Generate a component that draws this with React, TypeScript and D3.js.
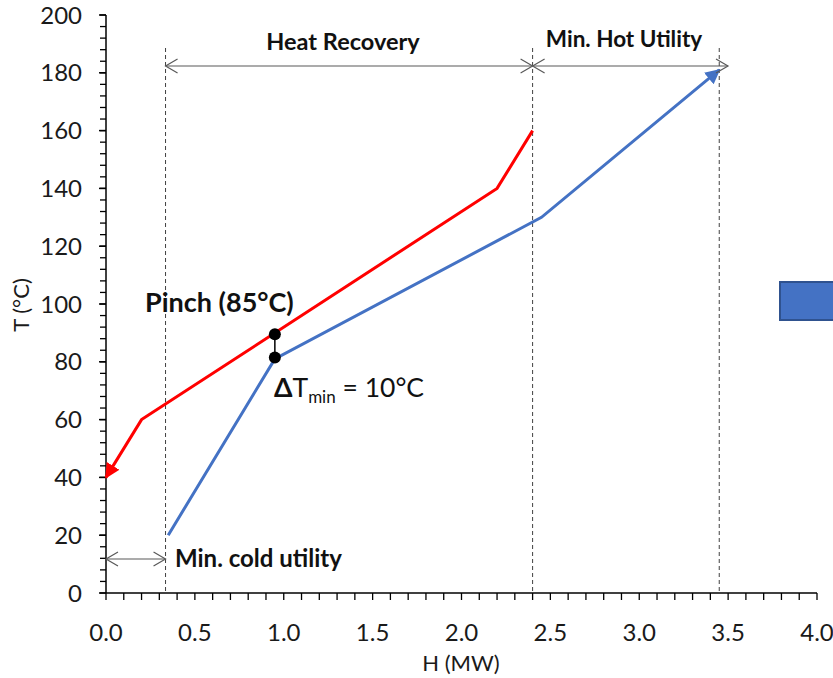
import React from "react";
import * as d3 from "d3";

const hotH = [2.4, 2.2, 0.2, 0.0];
const hotT = [160, 140, 60, 40];
const coldH = [0.35, 0.95, 2.45, 3.45];
const coldT = [20, 81, 130, 181];
const pinchH = [0.95, 0.95];
const pinchT = [89.5, 81.5];
const guideH = [0.335, 2.4, 3.45];
const xTicks = [0, 0.5, 1.0, 1.5, 2.0, 2.5, 3.0, 3.5, 4.0];
const yTicks = [0, 20, 40, 60, 80, 100, 120, 140, 160, 180, 200];

const W = 833, H = 678;
const FONT = "Lato, 'Open Sans', sans-serif";

export default function App() {
  const x = d3.scaleLinear().domain([0, 4]).range([106, 817]);
  const y = d3.scaleLinear().domain([0, 200]).range([593, 15]);
  const line = d3.line<[number, number]>().x(d => x(d[0])).y(d => y(d[1]));
  const hot = hotH.map((h, i) => [h, hotT[i]] as [number, number]);
  const cold = coldH.map((h, i) => [h, coldT[i]] as [number, number]);
  const xMinor = d3.range(0, 41).map(i => i / 10);
  const yMinor = d3.range(0, 51).map(i => i * 4);
  const gray = "#595959";
  const openHead = (px: number, py: number, dir: number, key: string) => (
    <path key={key} d={`M${px + dir * 12},${py - 7} L${px},${py} L${px + dir * 12},${py + 7}`} fill="none" stroke={gray} strokeWidth={1.2} />
  );
  const dim = (x1: number, x2: number, yy: number, k: string) => (
    <g key={k}>
      <line x1={x1} x2={x2} y1={yy} y2={yy} stroke={gray} strokeWidth={1.2} />
      {openHead(x1, yy, 1, k + "a")}
      {openHead(x2, yy, -1, k + "b")}
    </g>
  );
  return (
    <svg width={W} height={H} style={{ position: "absolute", left: 0, top: 0, background: "#fff" }} fontFamily={FONT}>
      <defs>
        <marker id="redArr" viewBox="0 0 10 10" refX="9" refY="5" markerWidth="5" markerHeight="5" orient="auto" markerUnits="strokeWidth">
          <path d="M0,0 L10,5 L0,10 z" fill="#FF0000" />
        </marker>
        <marker id="blueArr" viewBox="0 0 10 10" refX="9" refY="5" markerWidth="5" markerHeight="5" orient="auto" markerUnits="strokeWidth">
          <path d="M0,0 L10,5 L0,10 z" fill="#4472C4" />
        </marker>
      </defs>
      {guideH.map((g, i) => (
        <line key={"g" + i} x1={x(g)} x2={x(g)} y1={48} y2={593} stroke="#404040" strokeWidth={1} strokeDasharray="4,3" />
      ))}
      <line x1={106} x2={106} y1={15} y2={593} stroke="#000" strokeWidth={1.5} />
      <line x1={106} x2={817} y1={593} y2={593} stroke="#000" strokeWidth={1.5} />
      {yMinor.map(v => (
        <line key={"ym" + v} x1={100} x2={106} y1={y(v)} y2={y(v)} stroke="#000" strokeWidth={1.3} />
      ))}
      {yTicks.map(v => (
        <g key={"yt" + v}>
          <line x1={99} x2={106} y1={y(v)} y2={y(v)} stroke="#000" strokeWidth={1.5} />
          <text x={82} y={y(v) + 8.5} textAnchor="end" fontSize={24} fill="#1a1a1a">{v}</text>
        </g>
      ))}
      {xMinor.map(v => (
        <line key={"xm" + v} x1={x(v)} x2={x(v)} y1={593} y2={600} stroke="#000" strokeWidth={1.3} />
      ))}
      {xTicks.map(v => (
        <text key={"xt" + v} x={x(v)} y={641} textAnchor="middle" fontSize={24} fill="#1a1a1a">{v.toFixed(1)}</text>
      ))}
      <text x={461} y={671} textAnchor="middle" fontSize={22} fill="#1a1a1a">H (MW)</text>
      <text transform="translate(29,305) rotate(-90)" textAnchor="middle" fontSize={22} fill="#1a1a1a">T (°C)</text>
      <path d={line(hot) || ""} fill="none" stroke="#FF0000" strokeWidth={3} markerEnd="url(#redArr)" />
      <path d={line(cold) || ""} fill="none" stroke="#4472C4" strokeWidth={3} markerEnd="url(#blueArr)" />
      <line x1={x(pinchH[0])} x2={x(pinchH[1])} y1={y(pinchT[0])} y2={y(pinchT[1])} stroke="#000" strokeWidth={1.5} />
      {pinchH.map((h, i) => (
        <circle key={"p" + i} cx={x(h)} cy={y(pinchT[i])} r={6} fill="#000" />
      ))}
      {dim(x(guideH[0]), x(guideH[1]), 66, "hr")}
      {dim(x(guideH[1]), 728, 66, "hu")}
      {dim(106, x(guideH[0]), 559, "cu")}
      <text x={343} y={50} textAnchor="middle" fontSize={23.5} fontWeight="bold" fill="#111">Heat Recovery</text>
      <text x={624} y={47} textAnchor="middle" fontSize={22.5} fontWeight="bold" fill="#111">Min. Hot Utility</text>
      <text x={175} y={567} fontSize={24} fontWeight="bold" fill="#111">Min. cold utility</text>
      <text x={145} y={312} fontSize={27} fontWeight="bold" fill="#111">Pinch (85°C)</text>
      <text x={274} y={397} fontSize={26.5} fill="#111">
        <tspan fontWeight="bold">Δ</tspan>
        <tspan>T</tspan>
        <tspan fontSize={17} dy={6}>min</tspan>
        <tspan dy={-6}> = 10°C</tspan>
      </text>
      <rect x={780} y={282} width={60} height={38} fill="#4472C4" stroke="#2F528F" strokeWidth={2} />
    </svg>
  );
}
